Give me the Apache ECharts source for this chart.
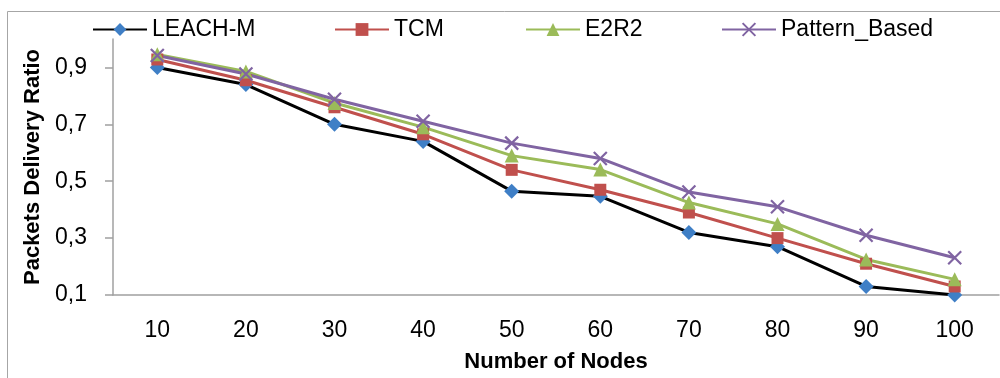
<!DOCTYPE html>
<html>
<head>
<meta charset="utf-8">
<script src="https://cdn.jsdelivr.net/npm/echarts@6/dist/echarts.min.js"></script>
<style>
  html, body { margin: 0; padding: 0; background: #fff; }
  #chart { width: 1000px; height: 378px; }
</style>
</head>
<body>
<div id="chart"></div>
<script>
// Datos
const nodes = ['10', '20', '30', '40', '50', '60', '70', '80', '90', '100'];
const leachM = [0.90, 0.84, 0.70, 0.64, 0.465, 0.447, 0.32, 0.27, 0.13, 0.10];
const tcm = [0.928, 0.855, 0.76, 0.665, 0.54, 0.47, 0.39, 0.30, 0.21, 0.13];
const e2r2 = [0.946, 0.886, 0.775, 0.69, 0.59, 0.541, 0.425, 0.35, 0.225, 0.155];
const patternBased = [0.942, 0.877, 0.788, 0.711, 0.634, 0.58, 0.462, 0.41, 0.31, 0.231];
const yTicks = [0.1, 0.3, 0.5, 0.7, 0.9];
const seriesNames = ['LEACH-M', 'TCM', 'E2R2', 'Pattern_Based'];

const font = 'Liberation Sans, Arial, sans-serif';
const crossPath = 'path://M0,0 L10,10 M10,0 L0,10';

// Una leyenda por serie para colocar cada entrada como en el original
const legendLeft = [87, 329, 520, 716];
const legends = seriesNames.map((name, i) => ({
  top: 13,
  left: legendLeft[i],
  itemWidth: 54,
  itemHeight: 16,
  itemGap: 0,
  textStyle: { fontFamily: font, fontSize: 23, color: '#000' },
  data: [name]
}));

const chart = echarts.init(document.getElementById('chart'));

chart.setOption({
  animation: false,
  textStyle: { fontFamily: font },
  graphic: [{
    type: 'rect',
    shape: { x: 7.5, y: 11.5, width: 1000, height: 400 },
    style: { fill: 'none', stroke: '#a6a6a6', lineWidth: 1 },
    silent: true
  }],
  legend: legends,
  grid: { left: 113, right: 1, top: 39, bottom: 83 },
  xAxis: {
    type: 'category',
    data: nodes,
    name: 'Number of Nodes',
    nameLocation: 'middle',
    nameGap: 56,
    nameTextStyle: { fontFamily: font, fontSize: 22, fontWeight: 'bold', color: '#000' },
    axisLine: { lineStyle: { color: '#a0a0a0', width: 1.5 } },
    axisTick: { show: false },
    axisLabel: { margin: 24, fontSize: 23, color: '#000', fontFamily: font }
  },
  yAxis: {
    type: 'value',
    min: 0.1,
    max: 1.0,
    interval: 0.2,
    name: 'Packets Delivery Ratio',
    nameLocation: 'middle',
    nameGap: 68,
    nameTextStyle: { fontFamily: font, fontSize: 22, fontWeight: 'bold', color: '#000' },
    axisLine: { show: true, lineStyle: { color: '#a0a0a0', width: 1.5 } },
    axisTick: { show: true, length: 8, lineStyle: { color: '#a0a0a0', width: 1.5 } },
    splitLine: { show: false },
    axisLabel: {
      margin: 26,
      fontSize: 23,
      color: '#000',
      fontFamily: font,
      showMaxLabel: false,
      formatter: v => yTicks.some(t => Math.abs(t - v) < 1e-6) ? v.toFixed(1).replace('.', ',') : ''
    }
  },
  series: [
    {
      name: 'LEACH-M',
      type: 'line',
      data: leachM,
      symbol: 'diamond',
      symbolSize: 15,
      lineStyle: { color: '#000', width: 3 },
      itemStyle: { color: '#3f7fc6' }
    },
    {
      name: 'TCM',
      type: 'line',
      data: tcm,
      symbol: 'rect',
      symbolSize: 12,
      lineStyle: { color: '#c0504d', width: 3 },
      itemStyle: { color: '#c0504d' }
    },
    {
      name: 'E2R2',
      type: 'line',
      data: e2r2,
      symbol: 'triangle',
      symbolSize: 14,
      lineStyle: { color: '#9bbb59', width: 3 },
      itemStyle: { color: '#9bbb59' }
    },
    {
      name: 'Pattern_Based',
      type: 'line',
      data: patternBased,
      symbol: crossPath,
      symbolSize: 13,
      lineStyle: { color: '#8064a2', width: 3 },
      itemStyle: { color: 'rgba(0,0,0,0)', borderColor: '#8064a2', borderWidth: 2.2 }
    }
  ]
});

window.addEventListener('resize', () => chart.resize());
</script>
</body>
</html>
